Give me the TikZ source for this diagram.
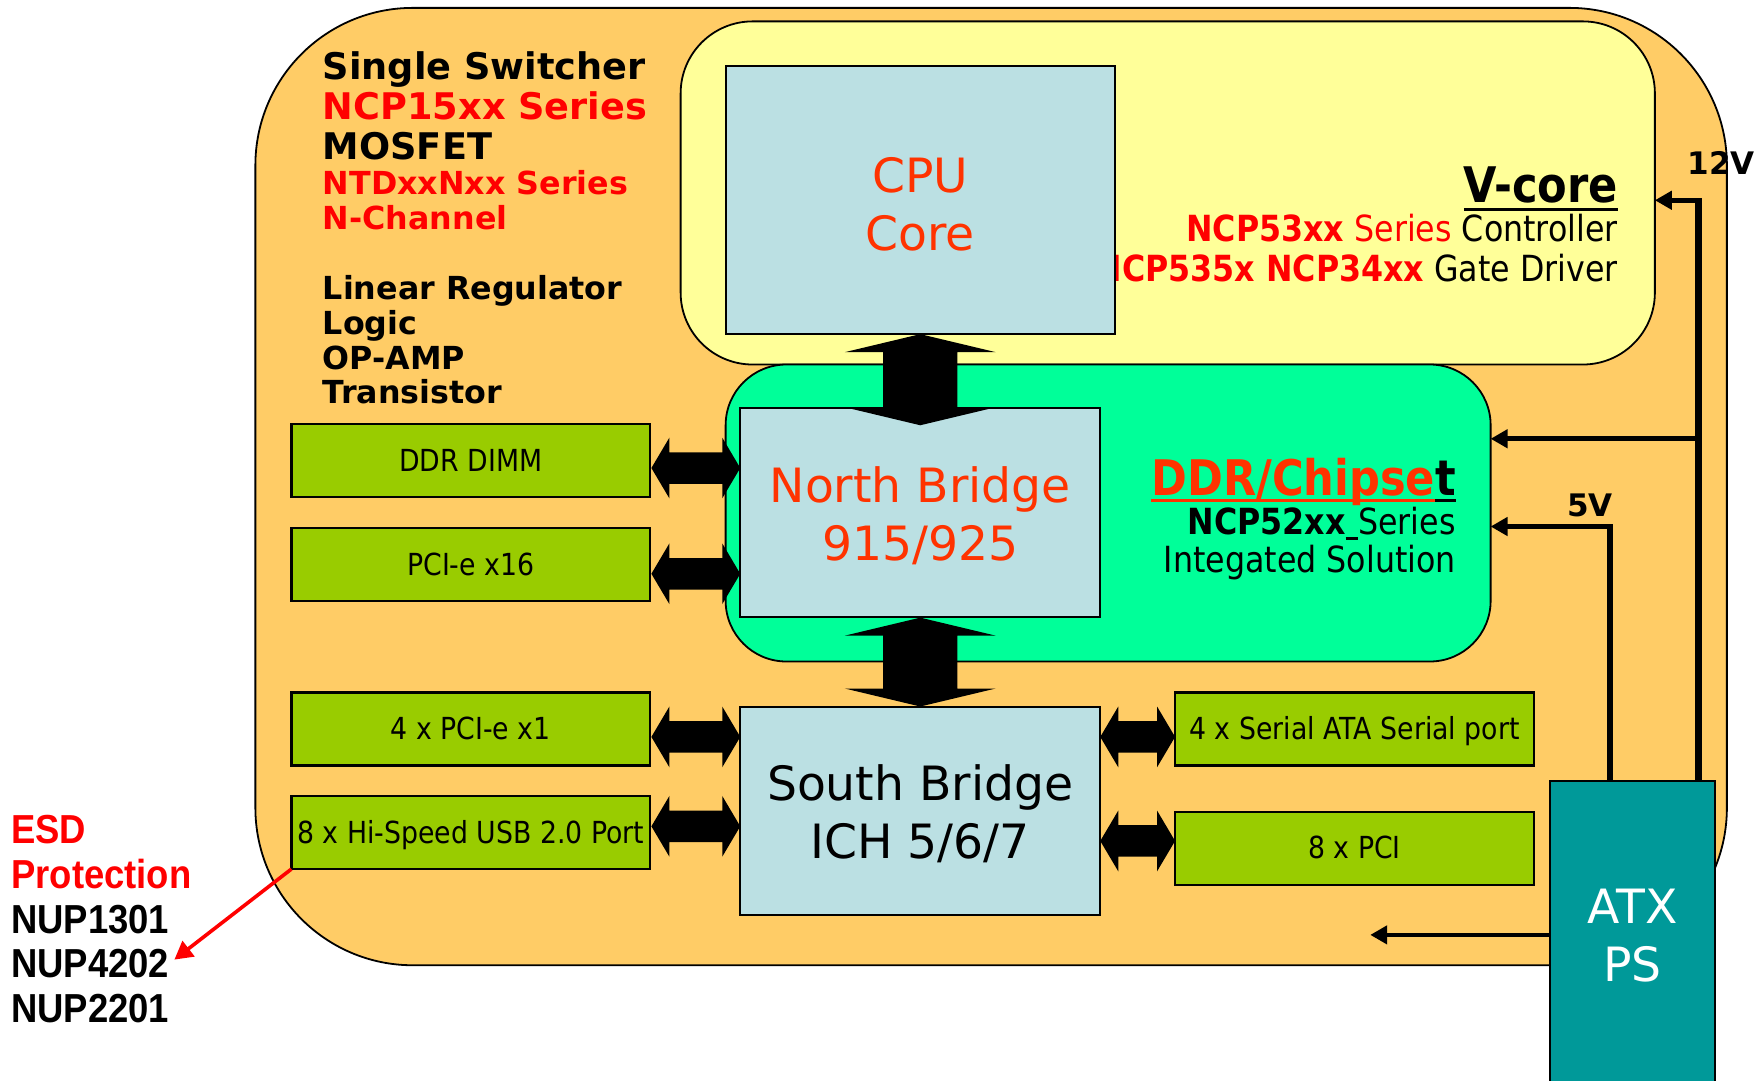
\documentclass[tikz,border=0pt]{standalone}
\usepackage{fontspec}
\setmainfont{DejaVu Sans}
\newfontfamily\vfont{DejaVu Sans}
\newfontfamily\tfont{DejaVu Sans}[FakeStretch=0.88]
\newfontfamily\afont{Liberation Sans}[FakeStretch=0.9]
\usetikzlibrary{calc,arrows.meta}
\definecolor{boardc}{HTML}{FFCC66}
\definecolor{vcorec}{HTML}{FFFF99}
\definecolor{chipc}{HTML}{00FF99}
\definecolor{chipblue}{HTML}{BBE0E3}
\definecolor{slotc}{HTML}{99CC00}
\definecolor{atxc}{HTML}{009999}
\definecolor{hot}{HTML}{FF3300}
\definecolor{pure}{HTML}{FF0000}
\newcommand\vfat[2]{\fill (#1) -- ++(67,16) -- ++(-34,0) -- ($(#2)+(33,-16)$) -- ++(34,0) -- (#2) -- ++(-67,-16) -- ++(34,0) -- ($(#1)+(-33,16)$) -- ++(-34,0) -- cycle;}
\newcommand\hfat[2]{\fill (#1) -- ++(16,-27) -- ++(0,13) -- ($(#2)+(-16,-14)$) -- ++(0,-13) -- (#2) -- ++(-16,27) -- ++(0,-13) -- ($(#1)+(16,14)$) -- ++(0,13) -- cycle;}
\newcommand\topstrut{\rule{0pt}{19pt}}
\begin{document}
\begin{tikzpicture}[x=0.5pt,y=-0.5pt,
  every node/.style={inner sep=0pt, outer sep=0pt},
  region/.style={draw=black, line width=0.8pt, rectangle},
  chip/.style={draw=black, line width=0.9pt, fill=chipblue, minimum width=160pt, minimum height=92.5pt, align=center, font=\vfont\fontsize{21}{25.7}\selectfont},
  slot/.style={draw=black, line width=1pt, fill=slotc, minimum width=159.5pt, minimum height=32.5pt, text height=11.5pt, text depth=2pt, font=\tfont\fontsize{13.5}{16}\selectfont},
  pow/.style={line width=2.1pt, -{Triangle[length=7.5pt,width=8pt]}},
  esd/.style={line width=1.6pt, draw=pure, -{Triangle[length=8pt,width=8.5pt]}},
  bigl/.style={anchor=base west, font=\vfont\bfseries\fontsize{16.3}{19}\selectfont},
  smalll/.style={anchor=base west, font=\vfont\bfseries\fontsize{14.1}{17}\selectfont},
  titl/.style={anchor=base east, font=\tfont\bfseries\fontsize{21.8}{26}\selectfont},
  infol/.style={anchor=base east, font=\tfont\fontsize{16}{19}\selectfont},
  voltl/.style={anchor=base west, font=\vfont\bfseries\fontsize{13.8}{16}\selectfont},
  esdl/.style={anchor=base west, font=\afont\bfseries\fontsize{18}{20}\selectfont}
]
\useasboundingbox (0,0) rectangle (1568,960);
\clip (0,0) rectangle (1568,960);
\fill[white] (0,0) rectangle (1568,960);

% regions
\node[region, fill=boardc, rounded corners=70pt, minimum width=654pt, minimum height=425.5pt] (board) at (881,432.5) {};
\node[region, fill=vcorec, rounded corners=32pt, minimum width=433pt, minimum height=152.5pt] (vcore) at (1038,171.5) {};

% V-core texts (under the CPU box)
\node[titl] (vctitle) at (1438,180) {V-core};
\draw[line width=1.2pt] ($(vctitle.base west)+(0,6)$) -- ($(vctitle.base east)+(0,6)$);
\node[infol] (vc1) at (1438,215) {\textcolor{pure}{\bfseries NCP53xx} \textcolor{pure}{Series} Controller};
\node[infol] (vc2) at (1438,250) {\textcolor{pure}{\bfseries NCP535x NCP34xx} Gate Driver};

\node[chip, minimum width=173pt, minimum height=119pt, text=hot] (cpu) at (818,178) {\topstrut CPU\\Core};

\node[region, fill=chipc, rounded corners=27pt, minimum width=340pt, minimum height=132pt] (chipset) at (985,456) {};

\node[chip, text=hot] (nb) at (818,455.5) {\topstrut North Bridge\\915/925};
\node[chip] (sb) at (818,720.5) {\topstrut South Bridge\\ICH 5/6/7};

% slots
\node[slot] (ddr) at (418.5,409.5) {DDR DIMM};
\node[slot] (pcie16) at (418.5,502) {PCI-e x16};
\node[slot] (pcie1) at (418.5,648) {4 x PCI-e x1};
\node[slot] (usb) at (418.5,740) {8 x Hi-Speed USB 2.0 Port};
\node[slot] (sata) at (1204,648) {4 x Serial ATA Serial port};
\node[slot] (pci) at (1204,754) {8 x PCI};

% fat bus arrows
\coordinate (cpuN) at ($(nb.north)+(0,15)$);
\vfat{cpu.south}{cpuN}
\coordinate (sbN) at (sb.north);
\coordinate (nbS) at ($(nb.south)+(0,1)$);
\vfat{nbS}{sbN}
\coordinate (a1) at ($(ddr.east)+(1,6.5)$);
\coordinate (b1) at (a1 -| nb.west);
\hfat{a1}{b1}
\coordinate (a2) at ($(pcie16.east)+(1,8)$);
\coordinate (b2) at (a2 -| nb.west);
\hfat{a2}{b2}
\coordinate (a3) at ($(pcie1.east)+(1,7)$);
\coordinate (b3) at (a3 -| sb.west);
\hfat{a3}{b3}
\coordinate (a4) at ($(usb.east)+(1,-5.5)$);
\coordinate (b4) at (a4 -| sb.west);
\hfat{a4}{b4}
\coordinate (a5) at ($(sata.west)+(0,7)$);
\coordinate (b5) at (a5 -| sb.east);
\hfat{b5}{a5}
\coordinate (a6) at ($(pci.west)+(0,-6.5)$);
\coordinate (b6) at (a6 -| sb.east);
\hfat{b6}{a6}

% ATX power supply
\node[draw=black, line width=0.9pt, fill=atxc, minimum width=73pt, minimum height=134pt, text=white, align=center, font=\vfont\fontsize{21}{25.7}\selectfont] (atx) at (1451,828) {\topstrut ATX\\PS};

% power lines
\coordinate (p12) at (1510,694);
\coordinate (t12) at (1510,178);
\coordinate (j12) at (1510,390);
\draw[line width=3.2pt] (p12) -- ($(t12)+(0,-2)$);
\draw[pow] ($(t12)+(1.5,0)$) -- (t12 -| vcore.east);
\draw[pow] (j12) -- (j12 -| chipset.east);
\coordinate (p5) at (1431,694);
\coordinate (t5) at (1431,468);
\draw[pow, line width=2.4pt] (p5) -- (t5) -- (t5 -| chipset.east);
\coordinate (b0) at (1218,831);
\draw[pow] (b0 -| atx.west) -- (b0);
\node[voltl] (v12) at (1500,155) {12V};
\node[voltl] (v5) at (1393,459) {5V};

% DDR/Chipset texts
\node[titl] (ct) at (1294,440) {t};
\node[titl, text=hot] (ctitle) at (ct.base west) {DDR/Chipse};
\draw[line width=1.2pt, hot] ($(ctitle.base west)+(0,5)$) -- ($(ctitle.base east)+(0,5)$);
\draw[line width=1.2pt] ($(ct.base west)+(0,5)$) -- ($(ct.base east)+(0,5)$);
\node[infol] (c1) at (1294,475) {\textbf{NCP52xx}\rule[-0.15em]{0.35em}{0.07em}Series};
\node[infol] (c2) at (1294,509) {Integated Solution};

% left text block
\node[bigl] (l1) at (287,71) {Single Switcher};
\node[bigl, text=pure] (l2) at (287,106) {NCP15xx Series};
\node[bigl] (l3) at (287,142) {MOSFET};
\node[smalll, text=pure] (l4) at (287,173) {NTDxxNxx Series};
\node[smalll, text=pure] (l5) at (287,204) {N-Channel};
\node[smalll] (l6) at (287,266) {Linear Regulator};
\node[smalll] (l7) at (287,297) {Logic};
\node[smalll] (l8) at (287,328) {OP-AMP};
\node[smalll] (l9) at (287,359) {Transistor};

% ESD
\node[esdl, text=pure] (e1) at (10,750) {ESD};
\node[esdl, text=pure] (e2) at (10,790) {Protection};
\node[esdl] (e3) at (10,830) {NUP1301};
\node[esdl] (e4) at (10,869) {NUP4202};
\node[esdl] (e5) at (10,909) {NUP2201};
\coordinate (esdtip) at (155,853);
\draw[esd] (usb.south west) -- (esdtip);
\end{tikzpicture}
\end{document}
